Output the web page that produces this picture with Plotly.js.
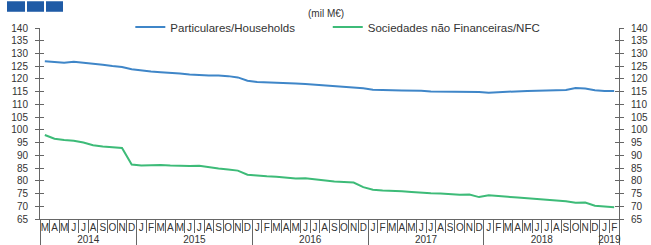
<!DOCTYPE html>
<html>
<head>
<meta charset="utf-8">
<script src="https://cdn.plot.ly/plotly-3.0.1.min.js"></script>
<style>html,body{margin:0;padding:0;background:#fff;}#chart{width:651px;height:245px;}</style>
</head>
<body>
<div id="chart"></div>
<script>
// Month tick labels, Mar 2014 .. Feb 2019
const monthLabels = [
  'M','A','M','J','J','A','S','O','N','D',
  'J','F','M','A','M','J','J','A','S','O','N','D',
  'J','F','M','A','M','J','J','A','S','O','N','D',
  'J','F','M','A','M','J','J','A','S','O','N','D',
  'J','F','M','A','M','J','J','A','S','O','N','D',
  'J','F'
];
const years = ['2014','2015','2016','2017','2018','2019'];
const monthsPerYear = [10, 12, 12, 12, 12, 2];

const households = [
  126.9,126.6,126.4,126.7,126.4,126.0,125.6,125.1,124.7,123.8,
  123.3,122.9,122.6,122.4,122.1,121.7,121.4,121.3,121.3,121.1,120.6,119.3,
  118.8,118.7,118.5,118.4,118.2,118.0,117.7,117.4,117.3,116.9,116.7,116.3,
  115.8,115.6,115.6,115.5,115.5,115.4,115.1,115.1,115.1,115.1,115.1,114.9,
  114.6,114.8,115.1,115.2,115.3,115.4,115.5,115.6,115.7,116.4,116.2,115.6,
  115.3,115.3
];
const nfc = [
  98.0,96.5,96.0,95.7,95.0,94.0,93.5,93.3,92.9,86.4,
  86.0,86.1,86.2,86.0,85.8,85.8,85.9,85.3,84.8,84.4,84.0,82.4,
  82.0,81.8,81.6,81.2,80.9,81.0,80.5,80.0,79.7,79.5,79.3,77.5,
  76.5,76.2,76.1,75.9,75.6,75.3,75.1,75.0,74.7,74.5,74.6,73.6,
  74.3,74.1,73.7,73.4,73.1,72.8,72.6,72.4,72.0,71.4,71.5,70.2,
  69.8,69.6
];
const seriesNames = ['Particulares/Households', 'Sociedades não Financeiras/NFC'];
const unitLabel = '(mil M€)';

const xIdx = monthLabels.map((_, i) => i);
const n = monthLabels.length;
const xRange = [-0.5, n - 0.5];

// year boundaries & centers
const yearBounds = [-0.5];
const yearCenters = [];
let acc = 0;
monthsPerYear.forEach(m => { yearCenters.push(acc + m / 2 - 0.5); acc += m; yearBounds.push(acc - 0.5); });
const monthBounds = xIdx.map(i => i - 0.5).concat([n - 0.5]);

const fam = 'Liberation Sans, Arial, sans-serif';
const font = {family: fam, size: 10, color: '#333'};
const axisCol = '#666';

const traces = [
  {x: xIdx, y: households, name: seriesNames[0], type: 'scatter', mode: 'lines',
   line: {color: '#3f86c8', width: 2}, legend: 'legend'},
  {x: xIdx, y: nfc, name: seriesNames[1], type: 'scatter', mode: 'lines',
   line: {color: '#3dbb78', width: 2}, legend: 'legend2'}
];
// empty helper traces so the overlay (tick-only) axes get drawn
[['x2','y'],['x3','y'],['x4','y'],['x','y2'],['x','y3'],['x','y4']].forEach(([xa, ya]) => {
  traces.push({x: [null], y: [null], xaxis: xa, yaxis: ya, type: 'scatter', mode: 'lines',
    showlegend: false, hoverinfo: 'skip'});
});

const yTicks = [];
for (let v = 65; v <= 140; v += 5) yTicks.push(v);

const baseY = {range: [65, 140], tickvals: yTicks, showgrid: false, zeroline: false,
  linecolor: axisCol, tickcolor: axisCol, ticklen: 4, tickfont: font};
const baseX = {range: xRange, showgrid: false, zeroline: false, showline: false,
  overlaying: 'x', anchor: 'y', tickangle: 0};
const legendBase = {orientation: 'h', xanchor: 'left', y: 1.005, yanchor: 'middle',
  bgcolor: 'rgba(0,0,0,0)', font: {family: fam, size: 11.5, color: '#333'}};

const layout = {
  width: 651, height: 245,
  margin: {l: 40, r: 32, t: 28, b: 26},
  paper_bgcolor: '#fff', plot_bgcolor: '#fff',
  font: font,
  showlegend: true,
  legend: Object.assign({}, legendBase, {x: 0.156}),
  legend2: Object.assign({}, legendBase, {x: 0.497}),
  xaxis: {range: xRange, tickvals: xIdx, ticktext: monthLabels, ticks: '',
    showgrid: false, zeroline: false, showline: true, linecolor: axisCol,
    ticklabelstandoff: -1,
    tickfont: {family: fam, size: 10, color: '#333'}, tickangle: 0},
  xaxis2: Object.assign({}, baseX, {tickvals: monthBounds,
    ticks: 'outside', ticklen: 13, tickcolor: axisCol, showticklabels: false}),
  xaxis3: Object.assign({}, baseX, {tickvals: yearBounds,
    ticks: 'outside', ticklen: 26, tickcolor: axisCol, showticklabels: false}),
  xaxis4: Object.assign({}, baseX, {tickvals: yearCenters, ticktext: years,
    ticks: 'outside', ticklen: 11, tickcolor: 'rgba(0,0,0,0)',
    tickfont: {family: fam, size: 10, color: '#333'}}),
  yaxis: Object.assign({}, baseY, {side: 'left', ticks: 'outside', showline: true, ticklabelstandoff: 5}),
  yaxis2: Object.assign({}, baseY, {overlaying: 'y', anchor: 'x', side: 'right', ticks: 'outside', showline: true, ticklabelstandoff: 5}),
  yaxis3: Object.assign({}, baseY, {overlaying: 'y', anchor: 'x', side: 'left', ticks: 'inside', showline: false, showticklabels: false}),
  yaxis4: Object.assign({}, baseY, {overlaying: 'y', anchor: 'x', side: 'right', ticks: 'inside', showline: false, showticklabels: false}),
  annotations: [
    {text: unitLabel, xref: 'paper', yref: 'paper', x: 0.494, y: 1.075, xanchor: 'center', yanchor: 'middle',
     showarrow: false, font: {family: fam, size: 10, color: '#333'}}
  ],
  shapes: [
    {type: 'rect', xref: 'paper', yref: 'paper', x0: -33/579, x1: -15/579, y0: 1.085, y1: 1.14, fillcolor: '#1f5ba6', line: {width: 0}},
    {type: 'rect', xref: 'paper', yref: 'paper', x0: -13/579, x1: 4/579, y0: 1.085, y1: 1.14, fillcolor: '#1f5ba6', line: {width: 0}},
    {type: 'rect', xref: 'paper', yref: 'paper', x0: 6/579, x1: 23/579, y0: 1.085, y1: 1.14, fillcolor: '#1f5ba6', line: {width: 0}}
  ]
};

Plotly.newPlot('chart', traces, layout, {staticPlot: true, displayModeBar: false});
</script>
</body>
</html>
